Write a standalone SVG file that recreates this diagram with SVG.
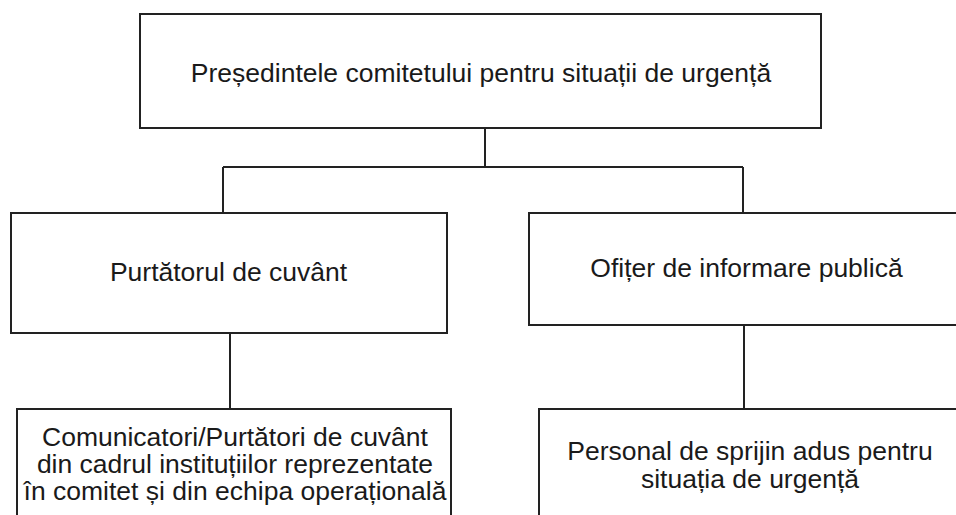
<svg xmlns="http://www.w3.org/2000/svg" width="956" height="515" viewBox="0 0 956 515">
<style>
.box{fill:#fff;stroke:#222;stroke-width:2}
.ln{fill:none;stroke:#222;stroke-width:2}
.t{font-family:"Liberation Sans",Arial,sans-serif;font-size:26.5px;fill:#1a1a1a;text-anchor:middle}
</style>
<rect width="956" height="515" fill="#fff"/>
<g id="connectors">
<path class="ln" d="M485 128V167M223 167H743M223 167V213M743 167V213"/>
<path class="ln" d="M230 333V409"/>
<path class="ln" d="M744 325V409"/>
</g>
<g id="n-presedinte">
<rect class="box" x="140" y="14" width="681" height="114"/>
<text class="t" x="481" y="82">Președintele comitetului pentru situații de urgență</text>
</g>
<g id="n-purtator">
<rect class="box" x="11" y="213" width="436" height="120"/>
<text class="t" x="228.5" y="281">Purtătorul de cuvânt</text>
</g>
<g id="n-ofiter">
<rect class="box" x="529" y="213" width="440" height="112"/>
<text class="t" x="746.5" y="277">Ofițer de informare publică</text>
</g>
<g id="n-comunicatori">
<rect class="box" x="17" y="409" width="434" height="120"/>
<text class="t" x="235" y="446">Comunicatori/Purtători de cuvânt</text>
<text class="t" x="235" y="473">din cadrul instituțiilor reprezentate</text>
<text class="t" x="235" y="500">în comitet și din echipa operațională</text>
</g>
<g id="n-personal">
<rect class="box" x="539" y="409" width="440" height="120"/>
<text class="t" x="750" y="460">Personal de sprijin adus pentru</text>
<text class="t" x="750" y="488">situația de urgență</text>
</g>
</svg>
